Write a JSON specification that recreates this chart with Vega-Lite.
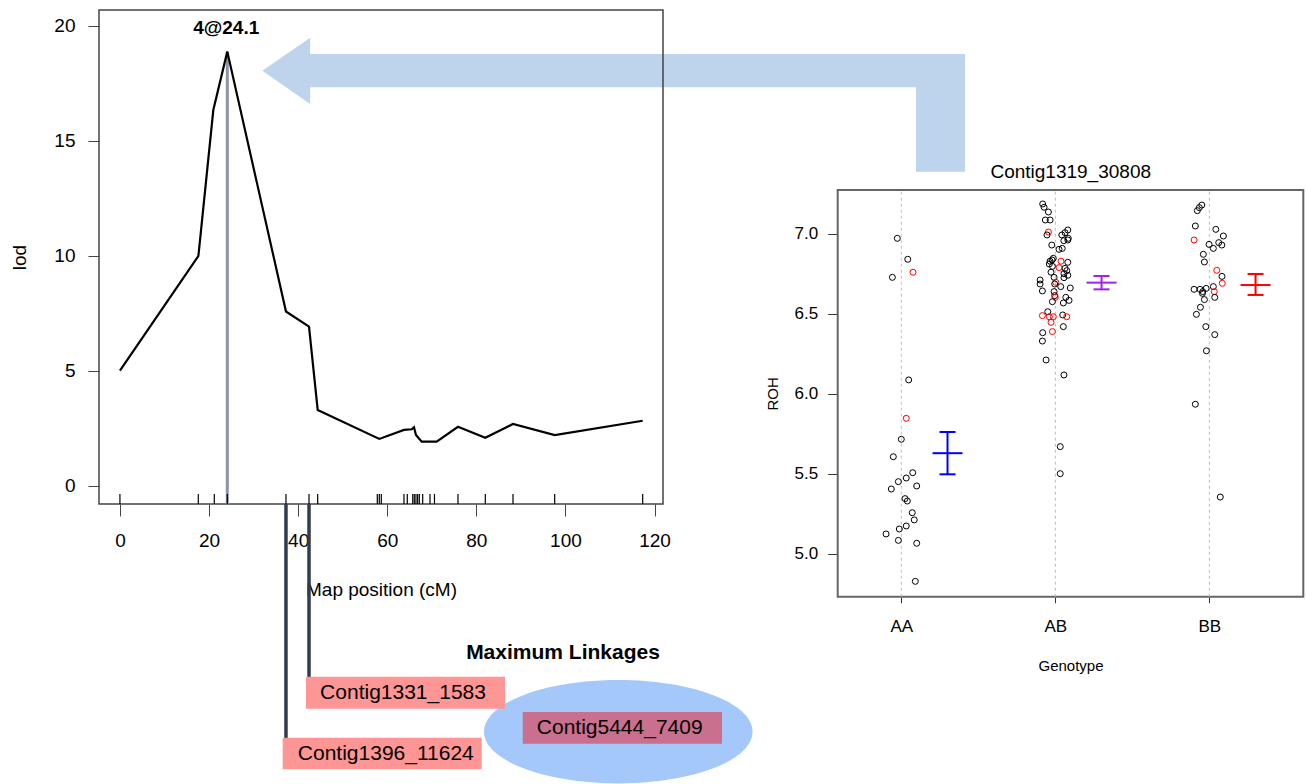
{
  "$schema": "https://vega.github.io/schema/vega-lite/v6.json",
  "width": 1306,
  "height": 784,
  "autosize": "none",
  "padding": 0,
  "background": "white",
  "config": {"view": {"stroke": null}, "font": "Liberation Sans"},
  "resolve": {"scale": {"x": "independent", "y": "independent"}, "axis": {"x": "independent", "y": "independent"}},
  "layer": [
    {
      "layer": [
        {
          "data": {"values": [{"cM": 31.96, "lod": 18.04, "lod2": 18.04}, {"cM": 42.7, "lod": 19.474, "lod2": 16.591}]},
          "mark": {"type": "area", "color": "#bed3ec", "opacity": 1},
          "encoding": {
            "x": {"field": "cM", "type": "quantitative", "scale": {"domain": [-4.7, 121.9], "range": [99, 663], "nice": false, "zero": false},
              "axis": {"orient": "bottom", "offset": -280, "values": [0, 20, 40, 60, 80, 100, 120], "domain": false, "grid": false, "tickSize": 12, "tickColor": "#444444", "tickWidth": 1, "labelFontSize": 19, "labelPadding": 15, "labelColor": "#000000", "labelFlush": false, "labelOverlap": false, "title": "Map position (cM)", "titleFontSize": 19, "titleFontWeight": "normal", "titleColor": "#000000", "titleY": 76}},
            "y": {"field": "lod", "type": "quantitative", "scale": {"domain": [-0.8, 20.68], "range": [504, 10], "nice": false, "zero": false},
              "axis": {"orient": "left", "offset": -99, "values": [0, 5, 10, 15, 20], "domain": false, "grid": false, "tickSize": 11, "tickColor": "#444444", "tickWidth": 1, "labelFontSize": 19, "labelPadding": 13, "labelColor": "#000000", "labelOverlap": false, "title": "lod", "titleFontSize": 19, "titleFontWeight": "normal", "titleColor": "#000000", "titleX": -70}},
            "y2": {"field": "lod2"}
          }
        },
        {
          "data": {"values": [{"cM": 42.5, "cM2": 189.69, "lod": 18.765, "lod2": 17.317}, {"cM": 178.69, "cM2": 189.69, "lod": 18.765, "lod2": 13.648}]},
          "mark": {"type": "rect", "color": "#bed3ec", "opacity": 1},
          "encoding": {
            "x": {"field": "cM", "type": "quantitative", "scale": {"domain": [-4.7, 121.9], "range": [99, 663], "nice": false, "zero": false}},
            "x2": {"field": "cM2"},
            "y": {"field": "lod", "type": "quantitative", "scale": {"domain": [-0.8, 20.68], "range": [504, 10], "nice": false, "zero": false}},
            "y2": {"field": "lod2"}
          }
        },
        {
          "data": {"values": [{"cM": -4.7, "cM2": 121.9, "lod": -0.8, "lod2": 20.68}]},
          "mark": {"type": "rect", "filled": false, "stroke": "#444444", "strokeWidth": 1.5},
          "encoding": {
            "x": {"field": "cM", "type": "quantitative", "scale": {"domain": [-4.7, 121.9], "range": [99, 663], "nice": false, "zero": false}},
            "x2": {"field": "cM2"},
            "y": {"field": "lod", "type": "quantitative", "scale": {"domain": [-0.8, 20.68], "range": [504, 10], "nice": false, "zero": false}},
            "y2": {"field": "lod2"}
          }
        },
        {
          "data": {"values": [{"cM": 24.1, "lod": 18.87, "lod2": -0.8}]},
          "mark": {"type": "rule", "color": "#8b95a3", "strokeWidth": 3},
          "encoding": {
            "x": {"field": "cM", "type": "quantitative", "scale": {"domain": [-4.7, 121.9], "range": [99, 663], "nice": false, "zero": false}},
            "y": {"field": "lod", "type": "quantitative", "scale": {"domain": [-0.8, 20.68], "range": [504, 10], "nice": false, "zero": false}},
            "y2": {"field": "lod2"}
          }
        },
        {
          "data": {"values": [
            {"cM": 0, "lod": 5.0}, {"cM": 17.59, "lod": 9.98}, {"cM": 17.7, "lod": 10.15}, {"cM": 20.96, "lod": 16.33},
            {"cM": 24.1, "lod": 18.87}, {"cM": 37.27, "lod": 7.57}, {"cM": 42.44, "lod": 6.91}, {"cM": 44.39, "lod": 3.29},
            {"cM": 58.22, "lod": 2.03}, {"cM": 63.76, "lod": 2.42}, {"cM": 65.49, "lod": 2.45}, {"cM": 66.0, "lod": 2.54},
            {"cM": 66.45, "lod": 2.2}, {"cM": 67.73, "lod": 1.91}, {"cM": 71.1, "lod": 1.91}, {"cM": 75.88, "lod": 2.56},
            {"cM": 82.01, "lod": 2.08}, {"cM": 88.23, "lod": 2.68}, {"cM": 97.59, "lod": 2.2}, {"cM": 117.34, "lod": 2.82}
          ]},
          "mark": {"type": "line", "color": "#000000", "strokeWidth": 2.2},
          "encoding": {
            "x": {"field": "cM", "type": "quantitative", "scale": {"domain": [-4.7, 121.9], "range": [99, 663], "nice": false, "zero": false}},
            "y": {"field": "lod", "type": "quantitative", "scale": {"domain": [-0.8, 20.68], "range": [504, 10], "nice": false, "zero": false}}
          }
        },
        {
          "data": {"values": [
            {"cM": 0}, {"cM": 17.59}, {"cM": 21.18}, {"cM": 24.1}, {"cM": 37.27}, {"cM": 42.44}, {"cM": 44.39},
            {"cM": 57.77}, {"cM": 58.22}, {"cM": 58.67}, {"cM": 63.76}, {"cM": 64.5}, {"cM": 65.72}, {"cM": 66.07},
            {"cM": 66.45}, {"cM": 66.83}, {"cM": 67.2}, {"cM": 67.96}, {"cM": 69.6}, {"cM": 70.6}, {"cM": 75.88},
            {"cM": 82.01}, {"cM": 88.23}, {"cM": 97.59}, {"cM": 117.34}
          ]},
          "mark": {"type": "rule", "color": "#000000", "strokeWidth": 1.2},
          "encoding": {
            "x": {"field": "cM", "type": "quantitative", "scale": {"domain": [-4.7, 121.9], "range": [99, 663], "nice": false, "zero": false}},
            "y": {"datum": -0.8, "type": "quantitative", "scale": {"domain": [-0.8, 20.68], "range": [504, 10], "nice": false, "zero": false}},
            "y2": {"datum": -0.365}
          }
        },
        {
          "data": {"values": [{"cM": 37.27, "lod": -0.8, "lod2": -10.974}, {"cM": 42.44, "lod": -0.8, "lod2": -8.322}]},
          "mark": {"type": "rule", "color": "#323c50", "strokeWidth": 3.5},
          "encoding": {
            "x": {"field": "cM", "type": "quantitative", "scale": {"domain": [-4.7, 121.9], "range": [99, 663], "nice": false, "zero": false}},
            "y": {"field": "lod", "type": "quantitative", "scale": {"domain": [-0.8, 20.68], "range": [504, 10], "nice": false, "zero": false}},
            "y2": {"field": "lod2"}
          }
        },
        {
          "data": {"values": [{"cM": 111.86, "lod": -10.7}]},
          "mark": {"type": "point", "shape": "M-1,0A1,0.385,0,1,0,1,0A1,0.385,0,1,0,-1,0Z", "size": 72146, "filled": true, "fill": "#a4c8fa", "opacity": 1, "strokeWidth": 0},
          "encoding": {
            "x": {"field": "cM", "type": "quantitative", "scale": {"domain": [-4.7, 121.9], "range": [99, 663], "nice": false, "zero": false}},
            "y": {"field": "lod", "type": "quantitative", "scale": {"domain": [-0.8, 20.68], "range": [504, 10], "nice": false, "zero": false}}
          }
        },
        {
          "data": {"values": [
            {"label": "Contig1331_1583", "cM": 41.76, "cM2": 86.43, "lod": -8.309, "lod2": -9.7},
            {"label": "Contig1396_11624", "cM": 36.53, "cM2": 81.2, "lod": -10.961, "lod2": -12.335}
          ]},
          "mark": {"type": "rect", "color": "#ff9696", "opacity": 1},
          "encoding": {
            "x": {"field": "cM", "type": "quantitative", "scale": {"domain": [-4.7, 121.9], "range": [99, 663], "nice": false, "zero": false}},
            "x2": {"field": "cM2"},
            "y": {"field": "lod", "type": "quantitative", "scale": {"domain": [-0.8, 20.68], "range": [504, 10], "nice": false, "zero": false}},
            "y2": {"field": "lod2"}
          }
        },
        {
          "data": {"values": [{"label": "Contig5444_7409", "cM": 90.41, "cM2": 135.14, "lod": -9.843, "lod2": -11.222}]},
          "mark": {"type": "rect", "color": "#c8708d", "opacity": 1},
          "encoding": {
            "x": {"field": "cM", "type": "quantitative", "scale": {"domain": [-4.7, 121.9], "range": [99, 663], "nice": false, "zero": false}},
            "x2": {"field": "cM2"},
            "y": {"field": "lod", "type": "quantitative", "scale": {"domain": [-0.8, 20.68], "range": [504, 10], "nice": false, "zero": false}},
            "y2": {"field": "lod2"}
          }
        },
        {
          "data": {"values": [
            {"label": "Contig1331_1583", "cM": 63.54, "lod": -9.026},
            {"label": "Contig1396_11624", "cM": 59.68, "lod": -11.678},
            {"label": "Contig5444_7409", "cM": 112.18, "lod": -10.535}
          ]},
          "mark": {"type": "text", "fontSize": 21, "color": "#000000", "align": "center", "baseline": "middle"},
          "encoding": {
            "x": {"field": "cM", "type": "quantitative", "scale": {"domain": [-4.7, 121.9], "range": [99, 663], "nice": false, "zero": false}},
            "y": {"field": "lod", "type": "quantitative", "scale": {"domain": [-0.8, 20.68], "range": [504, 10], "nice": false, "zero": false}},
            "text": {"field": "label"}
          }
        },
        {
          "data": {"values": [{"label": "Maximum Linkages", "cM": 99.45, "lod": -7.274}]},
          "mark": {"type": "text", "fontSize": 21, "fontWeight": "bold", "color": "#000000", "align": "center", "baseline": "middle"},
          "encoding": {
            "x": {"field": "cM", "type": "quantitative", "scale": {"domain": [-4.7, 121.9], "range": [99, 663], "nice": false, "zero": false}},
            "y": {"field": "lod", "type": "quantitative", "scale": {"domain": [-0.8, 20.68], "range": [504, 10], "nice": false, "zero": false}},
            "text": {"field": "label"}
          }
        },
        {
          "data": {"values": [{"label": "4@24.1", "cM": 23.85, "lod": 19.88}]},
          "mark": {"type": "text", "fontSize": 19, "fontWeight": "bold", "color": "#000000", "align": "center", "baseline": "middle"},
          "encoding": {
            "x": {"field": "cM", "type": "quantitative", "scale": {"domain": [-4.7, 121.9], "range": [99, 663], "nice": false, "zero": false}},
            "y": {"field": "lod", "type": "quantitative", "scale": {"domain": [-0.8, 20.68], "range": [504, 10], "nice": false, "zero": false}},
            "text": {"field": "label"}
          }
        }
      ]
    },
    {
      "layer": [
        {
          "data": {"values": [{"x": 0.587, "x2": 3.61, "roh": 4.733, "roh2": 7.275}]},
          "mark": {"type": "rect", "filled": false, "stroke": "#666666", "strokeWidth": 2},
          "encoding": {
            "x": {"field": "x", "type": "quantitative", "scale": {"domain": [0.587, 3.61], "range": [837.7, 1303.3], "nice": false, "zero": false},
              "axis": {"orient": "bottom", "offset": -187.3, "values": [1, 2, 3], "labelExpr": "datum.value == 1 ? 'AA' : datum.value == 2 ? 'AB' : 'BB'", "domain": false, "grid": false, "tickSize": 6, "tickColor": "#333333", "tickWidth": 1, "labelFontSize": 17, "labelPadding": 16, "labelColor": "#000000", "labelFlush": false, "labelOverlap": false, "title": "Genotype", "titleFontSize": 15, "titleFontWeight": "normal", "titleColor": "#000000", "titleY": 61.8}},
            "x2": {"field": "x2"},
            "y": {"field": "roh", "type": "quantitative", "scale": {"domain": [4.733, 7.275], "range": [596.7, 190], "nice": false, "zero": false},
              "axis": {"orient": "left", "offset": -837.7, "values": [5, 5.5, 6, 6.5, 7], "format": ".1f", "domain": false, "grid": false, "tickSize": 10, "tickColor": "#333333", "tickWidth": 1, "labelFontSize": 17, "labelPadding": 10, "labelColor": "#000000", "labelOverlap": false, "title": "ROH", "titleFontSize": 15, "titleFontWeight": "normal", "titleColor": "#000000", "titleX": -57.2}},
            "y2": {"field": "roh2"}
          }
        },
        {
          "data": {"values": [{"x": 1}, {"x": 2}, {"x": 3}]},
          "mark": {"type": "rule", "color": "#bdbdbd", "strokeWidth": 1, "strokeDash": [3, 3]},
          "encoding": {
            "x": {"field": "x", "type": "quantitative", "scale": {"domain": [0.587, 3.61], "range": [837.7, 1303.3], "nice": false, "zero": false}},
            "y": {"datum": 4.733, "type": "quantitative", "scale": {"domain": [4.733, 7.275], "range": [596.7, 190], "nice": false, "zero": false}},
            "y2": {"datum": 7.275}
          }
        },
        {
          "data": {"values": [
            {"genotype": "AA", "x": 0.974, "roh": 6.973, "highlight": "no"},
            {"genotype": "AA", "x": 1.042, "roh": 6.842, "highlight": "no"},
            {"genotype": "AA", "x": 1.076, "roh": 6.761, "highlight": "yes"},
            {"genotype": "AA", "x": 0.942, "roh": 6.729, "highlight": "no"},
            {"genotype": "AA", "x": 1.048, "roh": 6.088, "highlight": "no"},
            {"genotype": "AA", "x": 1.032, "roh": 5.848, "highlight": "yes"},
            {"genotype": "AA", "x": 1.0, "roh": 5.717, "highlight": "no"},
            {"genotype": "AA", "x": 0.948, "roh": 5.608, "highlight": "no"},
            {"genotype": "AA", "x": 1.074, "roh": 5.508, "highlight": "no"},
            {"genotype": "AA", "x": 1.032, "roh": 5.475, "highlight": "no"},
            {"genotype": "AA", "x": 0.981, "roh": 5.452, "highlight": "no"},
            {"genotype": "AA", "x": 0.935, "roh": 5.406, "highlight": "no"},
            {"genotype": "AA", "x": 1.1, "roh": 5.425, "highlight": "no"},
            {"genotype": "AA", "x": 1.024, "roh": 5.346, "highlight": "no"},
            {"genotype": "AA", "x": 1.039, "roh": 5.331, "highlight": "no"},
            {"genotype": "AA", "x": 1.071, "roh": 5.258, "highlight": "no"},
            {"genotype": "AA", "x": 1.084, "roh": 5.213, "highlight": "no"},
            {"genotype": "AA", "x": 1.032, "roh": 5.175, "highlight": "no"},
            {"genotype": "AA", "x": 0.987, "roh": 5.156, "highlight": "no"},
            {"genotype": "AA", "x": 0.901, "roh": 5.125, "highlight": "no"},
            {"genotype": "AA", "x": 0.981, "roh": 5.085, "highlight": "no"},
            {"genotype": "AA", "x": 1.1, "roh": 5.067, "highlight": "no"},
            {"genotype": "AA", "x": 1.091, "roh": 4.829, "highlight": "no"},
            {"genotype": "AB", "x": 1.918, "roh": 7.1875, "highlight": "no"},
            {"genotype": "AB", "x": 1.927, "roh": 7.167, "highlight": "no"},
            {"genotype": "AB", "x": 1.955, "roh": 7.1375, "highlight": "no"},
            {"genotype": "AB", "x": 1.935, "roh": 7.0875, "highlight": "no"},
            {"genotype": "AB", "x": 1.966, "roh": 7.0875, "highlight": "no"},
            {"genotype": "AB", "x": 1.955, "roh": 7.0125, "highlight": "yes"},
            {"genotype": "AB", "x": 1.946, "roh": 6.994, "highlight": "no"},
            {"genotype": "AB", "x": 2.081, "roh": 7.025, "highlight": "no"},
            {"genotype": "AB", "x": 2.063, "roh": 7.008, "highlight": "no"},
            {"genotype": "AB", "x": 2.042, "roh": 6.994, "highlight": "no"},
            {"genotype": "AB", "x": 2.084, "roh": 6.973, "highlight": "no"},
            {"genotype": "AB", "x": 2.081, "roh": 6.9625, "highlight": "no"},
            {"genotype": "AB", "x": 2.055, "roh": 6.958, "highlight": "no"},
            {"genotype": "AB", "x": 1.977, "roh": 6.931, "highlight": "no"},
            {"genotype": "AB", "x": 2.045, "roh": 6.91, "highlight": "no"},
            {"genotype": "AB", "x": 2.024, "roh": 6.904, "highlight": "no"},
            {"genotype": "AB", "x": 1.987, "roh": 6.848, "highlight": "no"},
            {"genotype": "AB", "x": 1.979, "roh": 6.8375, "highlight": "no"},
            {"genotype": "AB", "x": 1.966, "roh": 6.83, "highlight": "no"},
            {"genotype": "AB", "x": 2.037, "roh": 6.83, "highlight": "yes"},
            {"genotype": "AB", "x": 2.081, "roh": 6.823, "highlight": "no"},
            {"genotype": "AB", "x": 1.961, "roh": 6.8125, "highlight": "no"},
            {"genotype": "AB", "x": 2.024, "roh": 6.79, "highlight": "yes"},
            {"genotype": "AB", "x": 1.981, "roh": 6.798, "highlight": "no"},
            {"genotype": "AB", "x": 2.063, "roh": 6.785, "highlight": "no"},
            {"genotype": "AB", "x": 2.074, "roh": 6.771, "highlight": "no"},
            {"genotype": "AB", "x": 1.972, "roh": 6.761, "highlight": "no"},
            {"genotype": "AB", "x": 2.056, "roh": 6.752, "highlight": "no"},
            {"genotype": "AB", "x": 2.081, "roh": 6.742, "highlight": "no"},
            {"genotype": "AB", "x": 2.056, "roh": 6.727, "highlight": "no"},
            {"genotype": "AB", "x": 1.992, "roh": 6.729, "highlight": "no"},
            {"genotype": "AB", "x": 1.901, "roh": 6.7125, "highlight": "no"},
            {"genotype": "AB", "x": 1.901, "roh": 6.6875, "highlight": "no"},
            {"genotype": "AB", "x": 2.003, "roh": 6.698, "highlight": "yes"},
            {"genotype": "AB", "x": 1.996, "roh": 6.6875, "highlight": "no"},
            {"genotype": "AB", "x": 2.035, "roh": 6.671, "highlight": "no"},
            {"genotype": "AB", "x": 2.097, "roh": 6.6625, "highlight": "no"},
            {"genotype": "AB", "x": 1.916, "roh": 6.644, "highlight": "no"},
            {"genotype": "AB", "x": 1.992, "roh": 6.64, "highlight": "no"},
            {"genotype": "AB", "x": 1.996, "roh": 6.615, "highlight": "no"},
            {"genotype": "AB", "x": 2.0, "roh": 6.604, "highlight": "yes"},
            {"genotype": "AB", "x": 2.068, "roh": 6.604, "highlight": "no"},
            {"genotype": "AB", "x": 2.089, "roh": 6.585, "highlight": "no"},
            {"genotype": "AB", "x": 1.981, "roh": 6.577, "highlight": "no"},
            {"genotype": "AB", "x": 2.052, "roh": 6.569, "highlight": "no"},
            {"genotype": "AB", "x": 1.951, "roh": 6.514, "highlight": "no"},
            {"genotype": "AB", "x": 1.916, "roh": 6.49, "highlight": "yes"},
            {"genotype": "AB", "x": 1.961, "roh": 6.483, "highlight": "yes"},
            {"genotype": "AB", "x": 1.987, "roh": 6.483, "highlight": "yes"},
            {"genotype": "AB", "x": 2.048, "roh": 6.494, "highlight": "no"},
            {"genotype": "AB", "x": 2.074, "roh": 6.483, "highlight": "yes"},
            {"genotype": "AB", "x": 1.972, "roh": 6.448, "highlight": "yes"},
            {"genotype": "AB", "x": 2.052, "roh": 6.421, "highlight": "no"},
            {"genotype": "AB", "x": 1.981, "roh": 6.39, "highlight": "yes"},
            {"genotype": "AB", "x": 1.918, "roh": 6.383, "highlight": "no"},
            {"genotype": "AB", "x": 1.916, "roh": 6.331, "highlight": "no"},
            {"genotype": "AB", "x": 1.94, "roh": 6.2125, "highlight": "no"},
            {"genotype": "AB", "x": 2.056, "roh": 6.119, "highlight": "no"},
            {"genotype": "AB", "x": 2.032, "roh": 5.671, "highlight": "no"},
            {"genotype": "AB", "x": 2.032, "roh": 5.502, "highlight": "no"},
            {"genotype": "BB", "x": 2.951, "roh": 7.181, "highlight": "no"},
            {"genotype": "BB", "x": 2.935, "roh": 7.165, "highlight": "no"},
            {"genotype": "BB", "x": 2.922, "roh": 7.146, "highlight": "no"},
            {"genotype": "BB", "x": 2.909, "roh": 7.05, "highlight": "no"},
            {"genotype": "BB", "x": 3.042, "roh": 7.029, "highlight": "no"},
            {"genotype": "BB", "x": 3.091, "roh": 6.9875, "highlight": "no"},
            {"genotype": "BB", "x": 2.901, "roh": 6.9625, "highlight": "yes"},
            {"genotype": "BB", "x": 3.061, "roh": 6.946, "highlight": "no"},
            {"genotype": "BB", "x": 2.998, "roh": 6.935, "highlight": "no"},
            {"genotype": "BB", "x": 3.081, "roh": 6.931, "highlight": "no"},
            {"genotype": "BB", "x": 3.026, "roh": 6.91, "highlight": "no"},
            {"genotype": "BB", "x": 2.961, "roh": 6.873, "highlight": "no"},
            {"genotype": "BB", "x": 2.968, "roh": 6.825, "highlight": "no"},
            {"genotype": "BB", "x": 3.048, "roh": 6.773, "highlight": "yes"},
            {"genotype": "BB", "x": 3.082, "roh": 6.735, "highlight": "no"},
            {"genotype": "BB", "x": 3.084, "roh": 6.692, "highlight": "yes"},
            {"genotype": "BB", "x": 2.901, "roh": 6.654, "highlight": "no"},
            {"genotype": "BB", "x": 2.94, "roh": 6.654, "highlight": "no"},
            {"genotype": "BB", "x": 2.957, "roh": 6.64, "highlight": "no"},
            {"genotype": "BB", "x": 2.979, "roh": 6.66, "highlight": "no"},
            {"genotype": "BB", "x": 2.955, "roh": 6.629, "highlight": "no"},
            {"genotype": "BB", "x": 3.026, "roh": 6.671, "highlight": "no"},
            {"genotype": "BB", "x": 3.032, "roh": 6.64, "highlight": "yes"},
            {"genotype": "BB", "x": 3.035, "roh": 6.604, "highlight": "no"},
            {"genotype": "BB", "x": 2.968, "roh": 6.59, "highlight": "no"},
            {"genotype": "BB", "x": 2.942, "roh": 6.542, "highlight": "no"},
            {"genotype": "BB", "x": 2.916, "roh": 6.498, "highlight": "no"},
            {"genotype": "BB", "x": 2.977, "roh": 6.421, "highlight": "no"},
            {"genotype": "BB", "x": 3.035, "roh": 6.371, "highlight": "no"},
            {"genotype": "BB", "x": 2.981, "roh": 6.27, "highlight": "no"},
            {"genotype": "BB", "x": 2.909, "roh": 5.936, "highlight": "no"},
            {"genotype": "BB", "x": 3.071, "roh": 5.356, "highlight": "no"}
          ]},
          "mark": {"type": "point", "shape": "circle", "filled": false, "size": 36, "strokeWidth": 1, "opacity": 1},
          "encoding": {
            "x": {"field": "x", "type": "quantitative", "scale": {"domain": [0.587, 3.61], "range": [837.7, 1303.3], "nice": false, "zero": false}},
            "y": {"field": "roh", "type": "quantitative", "scale": {"domain": [4.733, 7.275], "range": [596.7, 190], "nice": false, "zero": false}},
            "stroke": {"field": "highlight", "type": "nominal", "scale": {"domain": ["no", "yes"], "range": ["#000000", "#ff0000"]}, "legend": null}
          }
        },
        {
          "data": {"values": [
            {"genotype": "AA", "x": 1.3, "mean": 5.63, "lo": 5.498, "hi": 5.7625},
            {"genotype": "AB", "x": 2.3, "mean": 6.696, "lo": 6.654, "hi": 6.7375},
            {"genotype": "BB", "x": 3.3, "mean": 6.681, "lo": 6.619, "hi": 6.75}
          ]},
          "layer": [
            {
              "mark": {"type": "rule", "strokeWidth": 2},
              "encoding": {
                "x": {"field": "x", "type": "quantitative", "scale": {"domain": [0.587, 3.61], "range": [837.7, 1303.3], "nice": false, "zero": false}},
                "y": {"field": "lo", "type": "quantitative", "scale": {"domain": [4.733, 7.275], "range": [596.7, 190], "nice": false, "zero": false}},
                "y2": {"field": "hi"},
                "color": {"field": "genotype", "type": "nominal", "scale": {"domain": ["AA", "AB", "BB"], "range": ["#0000ff", "#a020f0", "#ff0000"]}, "legend": null}
              }
            },
            {
              "mark": {"type": "point", "shape": "stroke", "filled": false, "size": 256, "strokeWidth": 2, "opacity": 1},
              "encoding": {
                "x": {"field": "x", "type": "quantitative", "scale": {"domain": [0.587, 3.61], "range": [837.7, 1303.3], "nice": false, "zero": false}},
                "y": {"field": "lo", "type": "quantitative", "scale": {"domain": [4.733, 7.275], "range": [596.7, 190], "nice": false, "zero": false}},
                "color": {"field": "genotype", "type": "nominal", "scale": {"domain": ["AA", "AB", "BB"], "range": ["#0000ff", "#a020f0", "#ff0000"]}, "legend": null}
              }
            },
            {
              "mark": {"type": "point", "shape": "stroke", "filled": false, "size": 256, "strokeWidth": 2, "opacity": 1},
              "encoding": {
                "x": {"field": "x", "type": "quantitative", "scale": {"domain": [0.587, 3.61], "range": [837.7, 1303.3], "nice": false, "zero": false}},
                "y": {"field": "hi", "type": "quantitative", "scale": {"domain": [4.733, 7.275], "range": [596.7, 190], "nice": false, "zero": false}},
                "color": {"field": "genotype", "type": "nominal", "scale": {"domain": ["AA", "AB", "BB"], "range": ["#0000ff", "#a020f0", "#ff0000"]}, "legend": null}
              }
            },
            {
              "mark": {"type": "point", "shape": "stroke", "filled": false, "size": 900, "strokeWidth": 2, "opacity": 1},
              "encoding": {
                "x": {"field": "x", "type": "quantitative", "scale": {"domain": [0.587, 3.61], "range": [837.7, 1303.3], "nice": false, "zero": false}},
                "y": {"field": "mean", "type": "quantitative", "scale": {"domain": [4.733, 7.275], "range": [596.7, 190], "nice": false, "zero": false}},
                "color": {"field": "genotype", "type": "nominal", "scale": {"domain": ["AA", "AB", "BB"], "range": ["#0000ff", "#a020f0", "#ff0000"]}, "legend": null}
              }
            }
          ]
        },
        {
          "data": {"values": [{"label": "Contig1319_30808", "x": 2.1, "roh": 7.389}]},
          "mark": {"type": "text", "fontSize": 19, "color": "#000000", "align": "center", "baseline": "middle"},
          "encoding": {
            "x": {"field": "x", "type": "quantitative", "scale": {"domain": [0.587, 3.61], "range": [837.7, 1303.3], "nice": false, "zero": false}},
            "y": {"field": "roh", "type": "quantitative", "scale": {"domain": [4.733, 7.275], "range": [596.7, 190], "nice": false, "zero": false}},
            "text": {"field": "label"}
          }
        }
      ]
    }
  ]
}
